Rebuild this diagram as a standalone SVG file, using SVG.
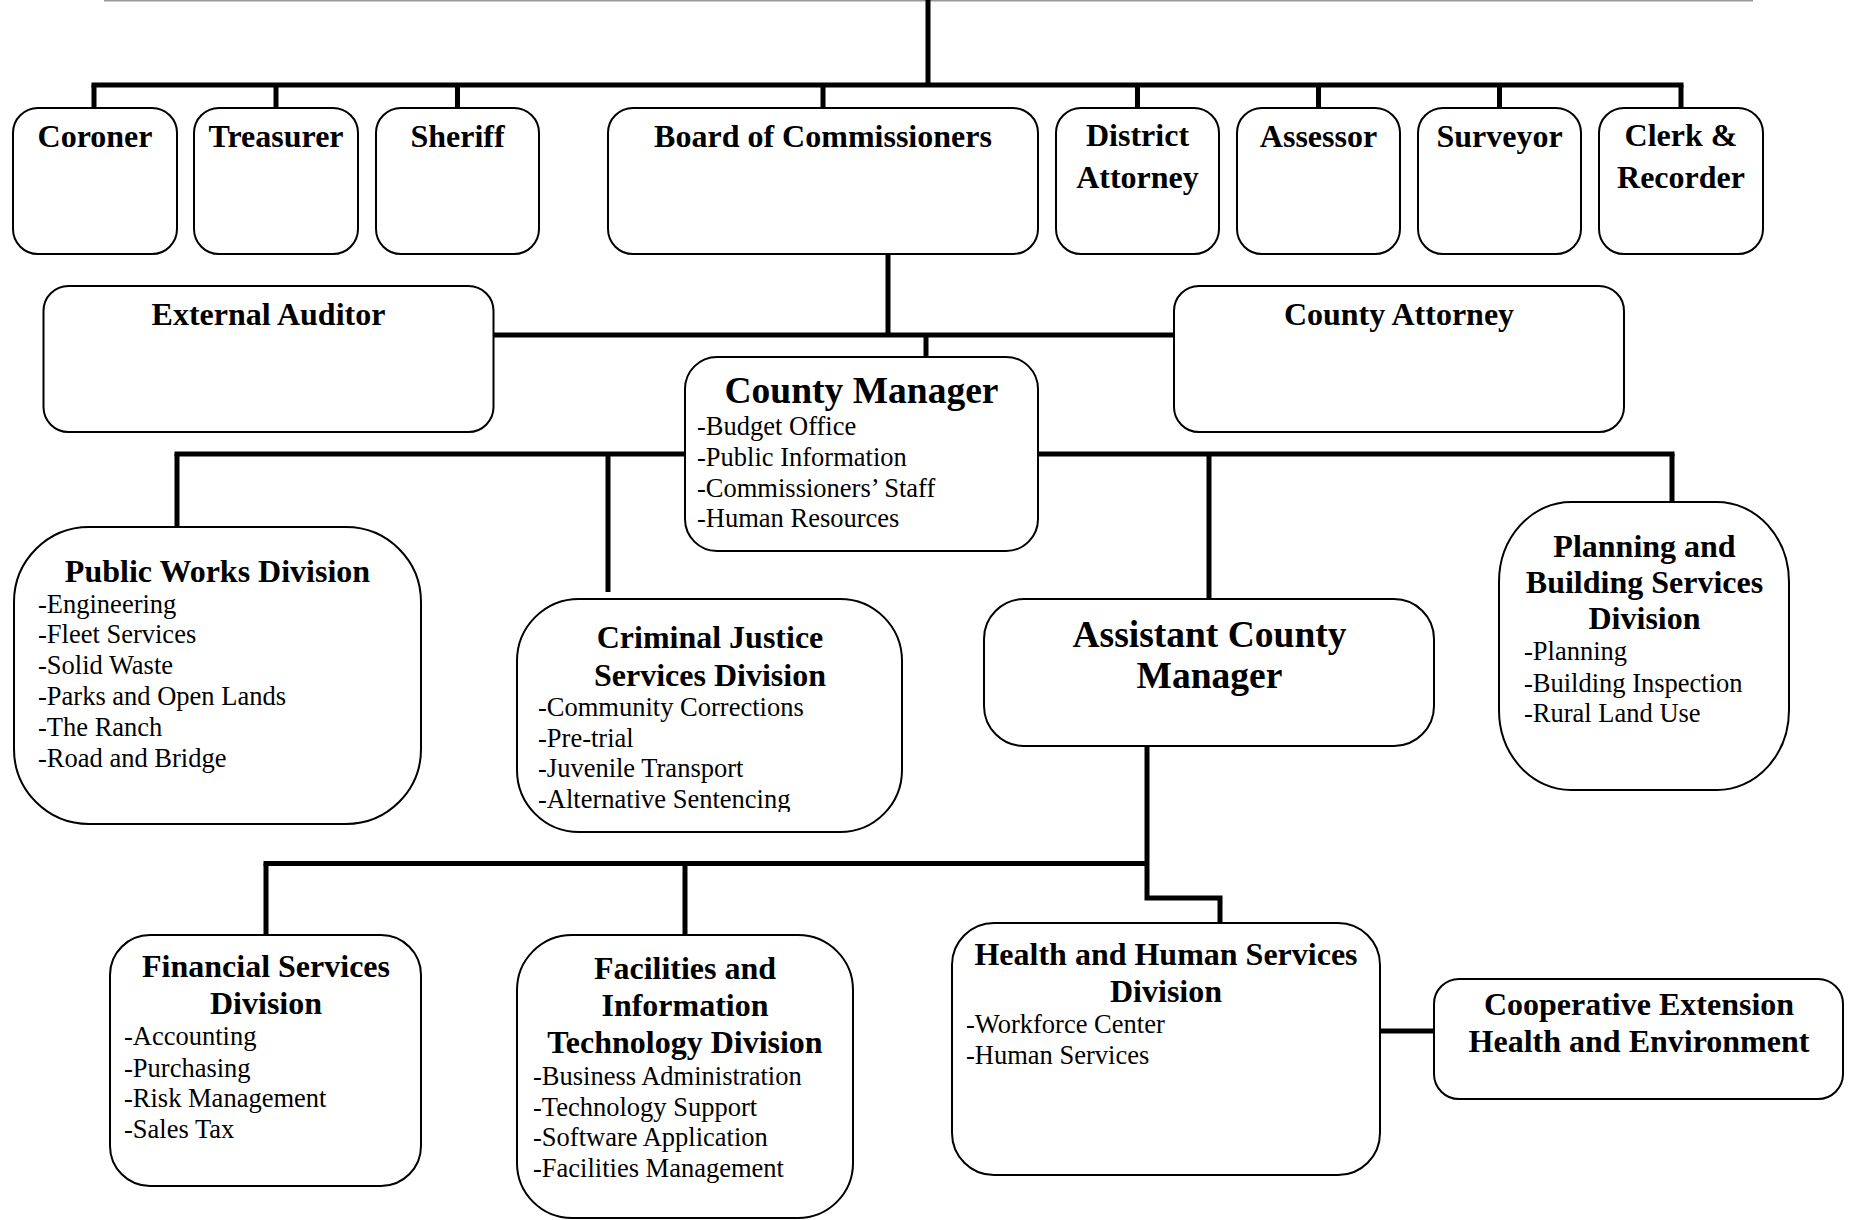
<svg xmlns="http://www.w3.org/2000/svg" width="1850" height="1220" viewBox="0 0 1850 1220">
<style>
.box{fill:#fff;stroke:#000;stroke-width:2}
.t{font-family:"Liberation Serif","Times New Roman",serif;font-weight:bold;font-size:32px;text-anchor:middle;fill:#000}
.tl{font-family:"Liberation Serif","Times New Roman",serif;font-weight:bold;font-size:37.5px;text-anchor:middle;fill:#000}
.i{font-family:"Liberation Serif","Times New Roman",serif;font-size:26.5px;fill:#000}
.c{fill:none;stroke:#000;stroke-width:5}
</style>
<defs>
<clipPath id="cjclip"><rect x="517" y="599" width="385" height="213"/></clipPath>
</defs>
<rect width="1850" height="1220" fill="#fff"/>
<line x1="104" y1="0.5" x2="1753" y2="0.5" stroke="#9a9a9a" stroke-width="2"/>
<g id="connectors">
<path class="c" d="M928,0 V85"/>
<path class="c" d="M91.5,85 H1683.5"/>
<path class="c" d="M94,85 V108 M276,85 V108 M457.5,85 V108 M823,85 V108 M1137.5,85 V108 M1318.5,85 V108 M1499.5,85 V108 M1681,85 V108"/>
<path class="c" d="M888,254 V335"/>
<path class="c" d="M494,335 H1174"/>
<path class="c" d="M926,335 V357"/>
<path class="c" d="M174.5,454 H1674.5"/>
<path class="c" d="M177,454 V527 M608,454 V592 M1209,454 V599 M1672,454 V502"/>
<path class="c" d="M263.5,863.5 H1147"/>
<path class="c" d="M266,863.5 V935 M685,863.5 V935"/>
<path class="c" d="M1147,746 V898 H1220 V923"/>
<path class="c" d="M1380,1031 H1434"/>
</g>
<g id="coroner"><rect class="box" x="13" y="108" width="164" height="146" rx="25"/><text class="t" x="95" y="147">Coroner</text></g>
<g id="treasurer"><rect class="box" x="194" y="108" width="164" height="146" rx="25"/><text class="t" x="276" y="147">Treasurer</text></g>
<g id="sheriff"><rect class="box" x="376" y="108" width="163" height="146" rx="25"/><text class="t" x="457.5" y="147">Sheriff</text></g>
<g id="board"><rect class="box" x="608" y="108" width="430" height="146" rx="25"/><text class="t" x="823" y="147">Board of Commissioners</text></g>
<g id="district-attorney"><rect class="box" x="1056" y="108" width="163" height="146" rx="25"/><text class="t" x="1137.5" y="146">District</text><text class="t" x="1137.5" y="188">Attorney</text></g>
<g id="assessor"><rect class="box" x="1237" y="108" width="163" height="146" rx="25"/><text class="t" x="1318.5" y="147">Assessor</text></g>
<g id="surveyor"><rect class="box" x="1418" y="108" width="163" height="146" rx="25"/><text class="t" x="1499.5" y="147">Surveyor</text></g>
<g id="clerk"><rect class="box" x="1599" y="108" width="164" height="146" rx="25"/><text class="t" x="1681" y="146">Clerk &amp;</text><text class="t" x="1681" y="188">Recorder</text></g>
<g id="external-auditor"><rect class="box" x="43.5" y="286" width="450" height="146" rx="25"/><text class="t" x="268.5" y="325">External Auditor</text></g>
<g id="county-attorney"><rect class="box" x="1174" y="286" width="450" height="146" rx="25"/><text class="t" x="1399" y="325">County Attorney</text></g>
<g id="county-manager"><rect class="box" x="685" y="357" width="353" height="194" rx="32"/><text class="tl" x="861.5" y="403">County Manager</text>
<text class="i" x="697" y="435">-Budget Office</text><text class="i" x="697" y="466">-Public Information</text><text class="i" x="697" y="497">-Commissioners’ Staff</text><text class="i" x="697" y="527">-Human Resources</text></g>
<g id="public-works"><rect class="box" x="14" y="527" width="407" height="297" rx="75"/><text class="t" x="217.5" y="582">Public Works Division</text>
<text class="i" x="38" y="613">-Engineering</text><text class="i" x="38" y="643">-Fleet Services</text><text class="i" x="38" y="674">-Solid Waste</text><text class="i" x="38" y="705">-Parks and Open Lands</text><text class="i" x="38" y="736">-The Ranch</text><text class="i" x="38" y="767">-Road and Bridge</text></g>
<g id="criminal-justice"><rect class="box" x="517" y="599" width="385" height="233" rx="62"/><text class="t" x="710" y="648">Criminal Justice</text><text class="t" x="710" y="686">Services Division</text>
<text class="i" x="538" y="716">-Community Corrections</text><text class="i" x="538" y="747">-Pre-trial</text><text class="i" x="538" y="777">-Juvenile Transport</text><text class="i" x="538" y="808" clip-path="url(#cjclip)">-Alternative Sentencing</text></g>
<g id="assistant-county-manager"><rect class="box" x="984" y="599" width="450" height="147" rx="40"/><text class="tl" x="1209.5" y="647">Assistant County</text><text class="tl" x="1209.5" y="688">Manager</text></g>
<g id="planning"><rect class="box" x="1499" y="502" width="290" height="288" rx="72" ry="80"/><text class="t" x="1644.5" y="557">Planning and</text><text class="t" x="1644.5" y="593">Building Services</text><text class="t" x="1644.5" y="629">Division</text>
<text class="i" x="1524" y="660">-Planning</text><text class="i" x="1524" y="692">-Building Inspection</text><text class="i" x="1524" y="722">-Rural Land Use</text></g>
<g id="financial"><rect class="box" x="110" y="935" width="311" height="251" rx="40"/><text class="t" x="266" y="977">Financial Services</text><text class="t" x="266" y="1014">Division</text>
<text class="i" x="124" y="1045">-Accounting</text><text class="i" x="124" y="1077">-Purchasing</text><text class="i" x="124" y="1107">-Risk Management</text><text class="i" x="124" y="1138">-Sales Tax</text></g>
<g id="facilities"><rect class="box" x="517" y="935" width="336" height="283" rx="55"/><text class="t" x="685" y="979">Facilities and</text><text class="t" x="685" y="1016">Information</text><text class="t" x="685" y="1053">Technology Division</text>
<text class="i" x="533" y="1085">-Business Administration</text><text class="i" x="533" y="1116">-Technology Support</text><text class="i" x="533" y="1146">-Software Application</text><text class="i" x="533" y="1177">-Facilities Management</text></g>
<g id="health"><rect class="box" x="952" y="923" width="428" height="252" rx="42"/><text class="t" x="1166" y="965">Health and Human Services</text><text class="t" x="1166" y="1002">Division</text>
<text class="i" x="966" y="1033">-Workforce Center</text><text class="i" x="966" y="1064">-Human Services</text></g>
<g id="cooperative"><rect class="box" x="1434" y="979" width="409" height="120" rx="25"/><text class="t" x="1639" y="1015">Cooperative Extension</text><text class="t" x="1639" y="1052">Health and Environment</text></g>
</svg>
